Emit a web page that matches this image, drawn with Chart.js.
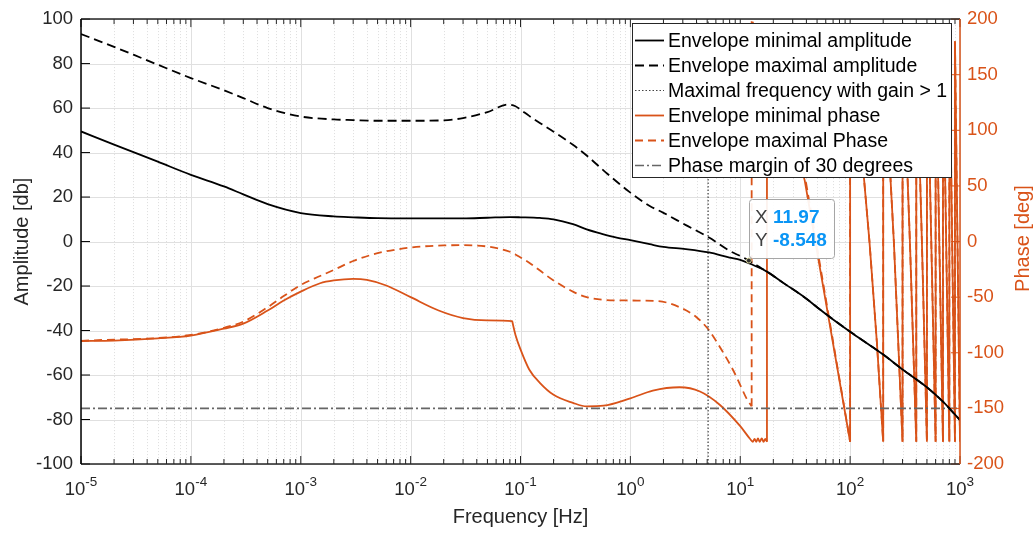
<!DOCTYPE html>
<html>
<head>
<meta charset="utf-8">
<script src="https://cdn.jsdelivr.net/npm/chart.js@4.4.1/dist/chart.umd.min.js"></script>
<style>
  html, body { margin: 0; padding: 0; background: #fff; }
  #wrap { width: 1035px; height: 533px; }
</style>
</head>
<body>
<div id="wrap"><canvas id="bodeChart" width="1035" height="533"></canvas></div>
<script>
// Bode envelope (amplitude left, phase right)
const xTickExps = [-5, -4, -3, -2, -1, 0, 1, 2, 3];

const ampMinFreq = [1e-5, 2e-5, 3e-5, 5e-5, 1e-4, 2e-4, 3e-4, 5e-4, 1e-3, 2e-3, 3e-3, 5e-3, 1e-2, 3e-2, 5e-2, 0.08, 0.1, 0.15, 0.2, 0.3, 0.4, 0.55, 0.75, 1, 1.5, 2, 3.2, 5.2, 8, 10, 12.3, 17.3, 25, 40, 50, 70, 100, 150, 200, 300, 500, 700, 800, 1000];
const ampMin = [49.5, 43.6, 40.2, 35.9, 30, 24.8, 21.2, 16.8, 12.8, 11.3, 10.9, 10.5, 10.4, 10.4, 10.7, 11, 10.9, 10.6, 10, 7.8, 5.5, 3.5, 1.8, 0.6, -1.2, -2.4, -3.4, -4.9, -7.2, -8.2, -10, -13.4, -18.8, -25.7, -29.5, -35, -40.5, -46.5, -50.8, -57.5, -65.5, -72, -75, -80.3];

const ampMaxFreq = [1e-5, 2e-5, 3e-5, 5e-5, 1e-4, 2e-4, 3e-4, 5e-4, 1e-3, 2e-3, 3e-3, 5e-3, 1e-2, 2e-2, 3e-2, 5e-2, 0.077, 0.09, 0.1, 0.12, 0.15, 0.2, 0.3, 0.4, 0.6, 1, 1.5, 2, 3.2, 5.2, 8, 10, 11.97, 15, 17.3, 25, 40, 50, 70, 100, 150, 200, 300, 500, 700, 800, 1000];
const ampMax = [93.3, 87.5, 84, 79.5, 73.5, 68, 64.5, 60, 56.2, 54.9, 54.6, 54.3, 54.3, 54.5, 55.5, 58.2, 61.6, 60.8, 59.3, 56.5, 53.3, 49.4, 43.5, 38.7, 31, 22, 16, 12.9, 7.4, 1.8, -4.2, -6.5, -8.548, -11.5, -13.4, -18.8, -25.7, -29.5, -35, -40.5, -46.5, -50.8, -57.5, -65.5, -72, -75, -80.3];

// smooth part of the phase envelopes
const phaseMinFreq = [1e-5, 2e-5, 5e-5, 1e-4, 2e-4, 3e-4, 5e-4, 7e-4, 1e-3, 1.5e-3, 2e-3, 3e-3, 4e-3, 6e-3, 1e-2, 1.8e-2, 3e-2, 5e-2, 0.084, 0.0845, 0.086, 0.09, 0.1, 0.12, 0.15, 0.2, 0.3, 0.4, 0.57, 1, 1.6, 2.8, 4.3, 6.5, 10, 12.3, 13, 13.5, 14, 14.5, 15, 15.7, 16.3, 16.9, 17.5];
const phaseMin = [-89.5, -89, -87, -84.5, -78.3, -73.8, -62, -53, -45, -37.5, -35, -33.6, -34.5, -39.5, -50, -62, -68.8, -70.8, -71.5, -72.5, -76, -84, -97, -115, -127, -137.8, -145, -148.2, -147.6, -141, -134, -131, -134.8, -146.7, -166, -177.5, -180, -177.5, -180, -177, -180, -177, -180, -177.5, -180];

const phaseMaxFreq = [1e-5, 1e-4, 2e-4, 3e-4, 5e-4, 7e-4, 1e-3, 1.5e-3, 2e-3, 3e-3, 5e-3, 1e-2, 2e-2, 3e-2, 5e-2, 0.08, 0.1, 0.12, 0.2, 0.3, 0.4, 0.57, 1, 1.8, 2.8, 4, 5.2, 6.5, 8.6, 10, 11.4, 12.7];
const phaseMax = [-89.3, -84, -77.5, -72, -59, -49, -39, -31, -25.5, -17.5, -10.5, -5.4, -3.5, -3.3, -4.5, -9.2, -14.3, -19, -35, -45, -50, -52.4, -53, -53.6, -59, -68, -79.8, -94.6, -115.5, -129, -141, -148];

// wrapped part (jump to +180, then linear drops)
const phaseMinTailFreq = [17.5, 17.5, 38.6];
const phaseMinTail = [-180, 180, 55];
const phaseMaxTailFreq = [12.7, 12.7, 38.6];
const phaseMaxTail = [-148, 200, 60];
const wrapFreq = [100, 100, 125, 150, 175, 200, 200, 250, 300, 300, 350, 400, 400, 450, 500, 500, 600, 600, 700, 700, 800, 800, 900, 900, 1000];
const wrapPhase = [-180, 180, 90, 0, -90, -180, 180, 0, -180, 180, 0, -180, 180, 0, -180, 180, -180, 180, -180, 180, -180, 180, -180, 180, -180];

const gainFreq = 5.1;
const marginPhase = -150;
const tipX = 11.97;
const tipY = -8.548;

const ORANGE = "#D95319";
const INK = "#262626";
const FONT = "'Liberation Sans', Arial, Helvetica, sans-serif";

const pts = (xs, ys) => xs.map((x, i) => ({ x: x, y: ys[i] }));

function seg(ctx, x1, y1, x2, y2) {
  ctx.beginPath();
  ctx.moveTo(x1, y1);
  ctx.lineTo(x2, y2);
  ctx.stroke();
}

const bodeFrame = {
  id: "bodeFrame",
  beforeDatasetsDraw(chart) {
    const { ctx, chartArea: a, scales } = chart;
    const x = scales.x, y = scales.y;
    ctx.save();
    ctx.lineWidth = 1;
    // minor grid
    ctx.strokeStyle = "#dddddd";
    ctx.setLineDash([1, 2]);
    for (let i = 0; i < xTickExps.length - 1; i++) {
      for (let m = 2; m <= 9; m++) {
        const px = Math.round(x.getPixelForValue(m * Math.pow(10, xTickExps[i]))) + 0.5;
        seg(ctx, px, a.top, px, a.bottom);
      }
    }
    // major grid
    ctx.setLineDash([]);
    ctx.strokeStyle = "#e0e0e0";
    xTickExps.forEach((e) => {
      const px = Math.round(x.getPixelForValue(Math.pow(10, e))) + 0.5;
      seg(ctx, px, a.top, px, a.bottom);
    });
    y.ticks.forEach((t) => {
      const py = Math.round(y.getPixelForValue(t.value)) + 0.5;
      seg(ctx, a.left, py, a.right, py);
    });
    ctx.restore();
  },
  afterDraw(chart) {
    const { ctx, chartArea: a, scales } = chart;
    const x = scales.x, y = scales.y, y2 = scales.y2;
    ctx.save();

    // ticks pointing inward
    ctx.lineWidth = 1;
    ctx.strokeStyle = INK;
    for (let i = 0; i < xTickExps.length; i++) {
      const px = x.getPixelForValue(Math.pow(10, xTickExps[i]));
      seg(ctx, px, a.bottom, px, a.bottom - 8);
      seg(ctx, px, a.top, px, a.top + 8);
      if (i < xTickExps.length - 1) {
        for (let m = 2; m <= 9; m++) {
          const pm = x.getPixelForValue(m * Math.pow(10, xTickExps[i]));
          seg(ctx, pm, a.bottom, pm, a.bottom - 5);
          seg(ctx, pm, a.top, pm, a.top + 5);
        }
      }
    }
    ctx.strokeStyle = "#000";
    y.ticks.forEach((t) => {
      const py = y.getPixelForValue(t.value);
      seg(ctx, a.left, py, a.left + 9, py);
    });
    ctx.strokeStyle = ORANGE;
    y2.ticks.forEach((t) => {
      const py = y2.getPixelForValue(t.value);
      seg(ctx, a.right, py, a.right - 9, py);
    });

    // box
    ctx.lineWidth = 1.5;
    ctx.strokeStyle = INK;
    seg(ctx, a.left, a.bottom, a.right, a.bottom);
    seg(ctx, a.left, a.top, a.right, a.top);
    ctx.strokeStyle = "#000";
    seg(ctx, a.left, a.top, a.left, a.bottom);
    ctx.strokeStyle = ORANGE;
    seg(ctx, a.right, a.top, a.right, a.bottom);

    // x tick labels 10^n
    ctx.fillStyle = INK;
    ctx.textBaseline = "alphabetic";
    ctx.textAlign = "left";
    xTickExps.forEach((e) => {
      const px = x.getPixelForValue(Math.pow(10, e));
      const sup = String(e);
      ctx.font = "18.5px " + FONT;
      const wb = ctx.measureText("10").width;
      ctx.font = "13.5px " + FONT;
      const ws = ctx.measureText(sup).width;
      const left = px - (wb + ws) / 2;
      ctx.font = "18.5px " + FONT;
      ctx.fillText("10", left, a.bottom + 31);
      ctx.font = "13.5px " + FONT;
      ctx.fillText(sup, left + wb, a.bottom + 22);
    });

    // axis titles
    ctx.font = "20px " + FONT;
    ctx.textAlign = "center";
    ctx.textBaseline = "middle";
    ctx.fillText("Frequency [Hz]", (a.left + a.right) / 2, 517);
    ctx.save();
    ctx.translate(22, (a.top + a.bottom) / 2);
    ctx.rotate(-Math.PI / 2);
    ctx.fillText("Amplitude [db]", 0, 0);
    ctx.restore();
    ctx.save();
    ctx.fillStyle = ORANGE;
    ctx.translate(1023, (a.top + a.bottom) / 2 - 3);
    ctx.rotate(-Math.PI / 2);
    ctx.fillText("Phase [deg]", 0, 0);
    ctx.restore();

    // legend box
    const lx = 632.5, ly = 23.5, lw = 319, lh = 154;
    ctx.fillStyle = "#fff";
    ctx.fillRect(lx, ly, lw, lh);
    ctx.lineWidth = 1;
    ctx.strokeStyle = INK;
    ctx.strokeRect(lx, ly, lw, lh);
    ctx.font = "19.5px " + FONT;
    ctx.textAlign = "left";
    ctx.textBaseline = "middle";
    chart.data.datasets.slice(0, 6).forEach((ds, i) => {
      const ry = 40.5 + i * 25;
      ctx.strokeStyle = ds.borderColor;
      ctx.lineWidth = ds.borderWidth;
      ctx.setLineDash(ds.borderDash || []);
      seg(ctx, 635, ry, 664, ry);
      ctx.setLineDash([]);
      ctx.fillStyle = "#000";
      ctx.fillText(ds.label, 668, ry + 1);
    });

    // data tip
    const bx = 749.5, by = 199.5, bw = 85, bh = 59;
    ctx.beginPath();
    ctx.roundRect(bx, by, bw, bh, 3);
    ctx.fillStyle = "rgba(255,255,255,0.93)";
    ctx.fill();
    ctx.lineWidth = 1;
    ctx.strokeStyle = "#a6a6a6";
    ctx.stroke();
    ctx.font = "19px " + FONT;
    ctx.fillStyle = "#404040";
    ctx.fillText("X", 755, 218);
    ctx.fillText("Y", 755, 241);
    ctx.font = "bold 19px " + FONT;
    ctx.fillStyle = "#0a95f5";
    ctx.fillText(String(tipX), 773, 218);
    ctx.fillText(String(tipY), 773, 241);

    ctx.restore();
  },
};

const ctx = document.getElementById("bodeChart").getContext("2d");
new Chart(ctx, {
  type: "line",
  data: {
    datasets: [
      {
        label: "Envelope minimal amplitude",
        data: pts(ampMinFreq, ampMin),
        yAxisID: "y",
        borderColor: "#000",
        borderWidth: 1.8,
        cubicInterpolationMode: "monotone",
        order: 1,
      },
      {
        label: "Envelope maximal amplitude",
        data: pts(ampMaxFreq, ampMax),
        yAxisID: "y",
        borderColor: "#000",
        borderWidth: 1.8,
        borderDash: [9, 5],
        cubicInterpolationMode: "monotone",
        order: 1,
      },
      {
        label: "Maximal frequency with gain > 1",
        data: [{ x: gainFreq, y: -100 }, { x: gainFreq, y: 100 }],
        yAxisID: "y",
        borderColor: "#444",
        borderWidth: 1.2,
        borderDash: [1.5, 2],
        order: 2,
      },
      {
        label: "Envelope minimal phase",
        data: pts(phaseMinFreq, phaseMin),
        yAxisID: "y2",
        borderColor: ORANGE,
        borderWidth: 1.8,
        cubicInterpolationMode: "monotone",
        order: 3,
      },
      {
        label: "Envelope maximal Phase",
        data: pts(phaseMaxFreq, phaseMax),
        yAxisID: "y2",
        borderColor: ORANGE,
        borderWidth: 1.8,
        borderDash: [8, 5],
        cubicInterpolationMode: "monotone",
        order: 3,
      },
      {
        label: "Phase margin of 30 degrees",
        data: [{ x: 1e-5, y: marginPhase }, { x: 1e3, y: marginPhase }],
        yAxisID: "y2",
        borderColor: "#666",
        borderWidth: 1.6,
        borderDash: [9, 3, 2, 3],
        order: 2,
      },
      {
        label: "tip",
        data: [{ x: tipX, y: tipY }],
        yAxisID: "y",
        showLine: false,
        pointRadius: 2.5,
        pointBackgroundColor: "#333",
        pointBorderColor: "#d8d49a",
        pointBorderWidth: 1,
        order: 0,
      },
      {
        label: "min phase (wrapped)",
        data: pts(phaseMinTailFreq.concat(wrapFreq), phaseMinTail.concat(wrapPhase)),
        yAxisID: "y2",
        borderColor: ORANGE,
        borderWidth: 1.8,
        order: 3,
      },
      {
        label: "max phase (wrapped)",
        data: pts(phaseMaxTailFreq.concat(wrapFreq), phaseMaxTail.concat(wrapPhase)),
        yAxisID: "y2",
        borderColor: ORANGE,
        borderWidth: 1.8,
        borderDash: [8, 5],
        order: 3,
      },
    ],
  },
  options: {
    responsive: false,
    animation: false,
    events: [],
    elements: { point: { radius: 0 }, line: { tension: 0, fill: false } },
    layout: { padding: { top: 16, left: 0, right: 0, bottom: 0 } },
    plugins: {
      legend: { display: false },
      tooltip: { enabled: false },
    },
    scales: {
      x: {
        type: "logarithmic",
        min: 1e-5,
        max: 1e3,
        grid: { display: false, drawTicks: false },
        border: { display: false },
        ticks: { display: false },
        afterFit: (s) => { s.height = 69; },
      },
      y: {
        position: "left",
        min: -100,
        max: 100,
        grid: { display: false, drawTicks: false },
        border: { display: false },
        ticks: { stepSize: 20, color: INK, padding: 8, font: { family: FONT, size: 18.5 } },
        afterFit: (s) => { s.width = 81; },
      },
      y2: {
        position: "right",
        min: -200,
        max: 200,
        grid: { display: false, drawTicks: false },
        border: { display: false },
        ticks: { stepSize: 50, color: ORANGE, padding: 7, font: { family: FONT, size: 18.5 } },
        afterFit: (s) => { s.width = 75; },
      },
    },
  },
  plugins: [bodeFrame],
});
</script>
</body>
</html>
